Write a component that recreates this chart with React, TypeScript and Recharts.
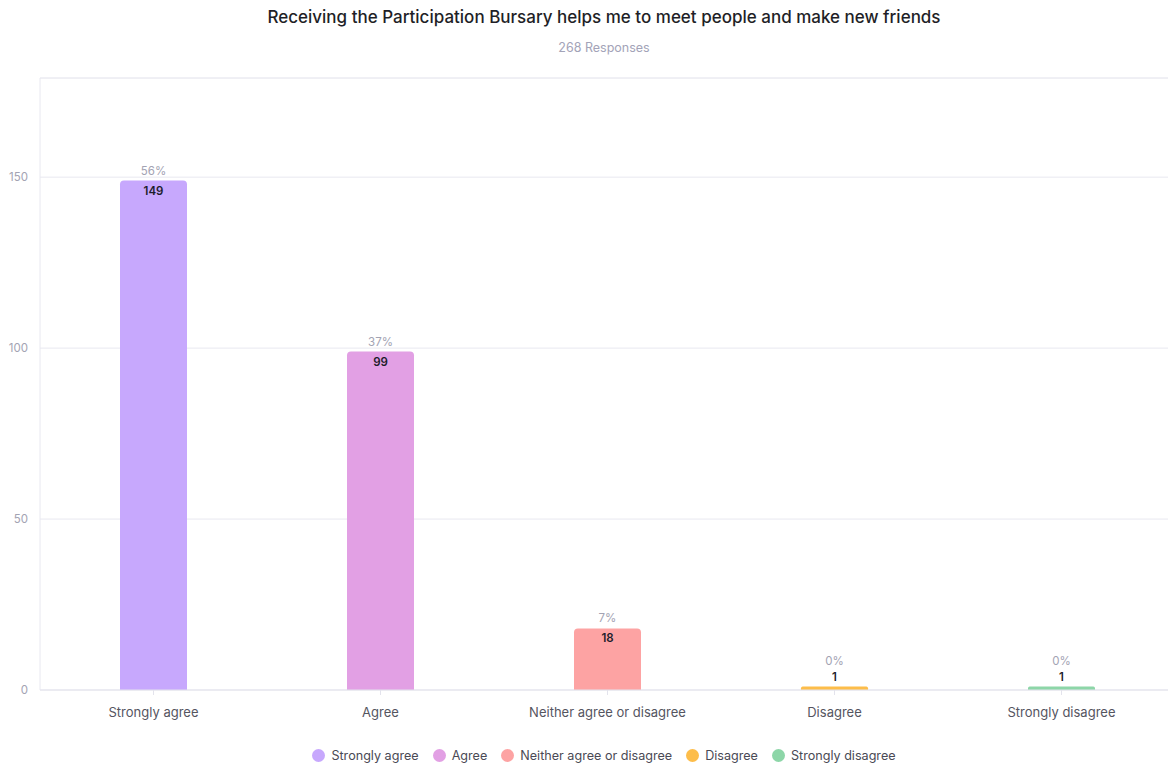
import React from 'react'
import {
  BarChart,
  Bar,
  XAxis,
  YAxis,
  CartesianGrid,
  Legend,
  Cell,
  ReferenceLine,
} from 'recharts'

const categories = ['Strongly agree', 'Agree', 'Neither agree or disagree', 'Disagree', 'Strongly disagree']
const counts = [149, 99, 18, 1, 1]
const percents = ['56%', '37%', '7%', '0%', '0%']
const colors = ['#c7a8fd', '#e2a0e4', '#fda3a3', '#fdbd4a', '#8dd6a8']
const yTicks = [0, 50, 100, 150]

const data = categories.map((name, i) => ({ name, count: counts[i], pct: percents[i] }))

const font = 'Inter, "Noto Sans", sans-serif'

// percent above the bar, count inside the top (or above it when the bar is too thin)
const renderLabel = (props: any) => {
  const { x, y, width, height, value, index } = props
  const cx = x + width / 2
  const small = height < 22
  const countY = small ? y - 10 : y + 10
  const pctY = small ? y - 26 : y - 10
  return (
    <g>
      <text x={cx} y={pctY} textAnchor="middle" dominantBaseline="central" fontSize={11.5} fill="#a3a3b3" fontFamily={font}>
        {percents[index]}
      </text>
      <text x={cx} y={countY} textAnchor="middle" dominantBaseline="central" fontSize={11.5} fontWeight={600} fill="#1d1d2b" fontFamily={font}>
        {value}
      </text>
    </g>
  )
}

const renderLegend = () => (
  <div style={{ height: 34, paddingTop: 16, paddingLeft: 40, paddingRight: 7, boxSizing: 'border-box', display: 'flex', justifyContent: 'center', alignItems: 'center', gap: 14, fontFamily: font, fontSize: 12.6, color: '#4a4a55' }}>
    {categories.map((c, i) => (
      <div key={c} style={{ display: 'flex', alignItems: 'center', gap: 6 }}>
        <span style={{ width: 13, height: 13, borderRadius: 7, background: colors[i], display: 'inline-block' }} />
        <span>{c}</span>
      </div>
    ))}
  </div>
)

export default function App() {
  return (
    <div style={{ position: 'absolute', left: 0, top: 0, width: 1168, height: 764, overflow: 'hidden', background: '#fff', fontFamily: font }}>
      <div style={{ position: 'absolute', left: 40, width: 1128, top: 7, textAlign: 'center', fontSize: 17, color: '#1f1f27', fontWeight: 500 }}>
        Receiving the Participation Bursary helps me to meet people and make new friends
      </div>
      <div style={{ position: 'absolute', left: 40, width: 1128, top: 40, textAlign: 'center', fontSize: 12.5, color: '#a3a3b8' }}>
        268 Responses
      </div>
      <BarChart width={1175} height={764} data={data} margin={{ top: 78, right: 0, left: 0, bottom: 0 }}>
        <CartesianGrid vertical={false} stroke="#e8e8f0" />
        <ReferenceLine y={179} stroke="#ececf2" />
        <XAxis
          dataKey="name"
          height={40}
          tickSize={5}
          tickMargin={13}
          stroke="#e3e3ec"
          tick={{ fill: '#55555f', fontSize: 13, fontFamily: font }}
        />
        <YAxis
          width={40}
          domain={[0, 179]}
          ticks={yTicks}
          tickLine={false}
          stroke="#e8e8f0"
          tickMargin={6}
          tick={{ fill: '#a3a3b3', fontSize: 11.5, fontFamily: font }}
        />
        <Legend verticalAlign="bottom" content={renderLegend} />
        <Bar dataKey="count" radius={[4, 4, 0, 0]} isAnimationActive={false} label={renderLabel} barSize={67}>
          {data.map((d, i) => (
            <Cell key={d.name} fill={colors[i]} />
          ))}
        </Bar>
      </BarChart>
    </div>
  )
}
